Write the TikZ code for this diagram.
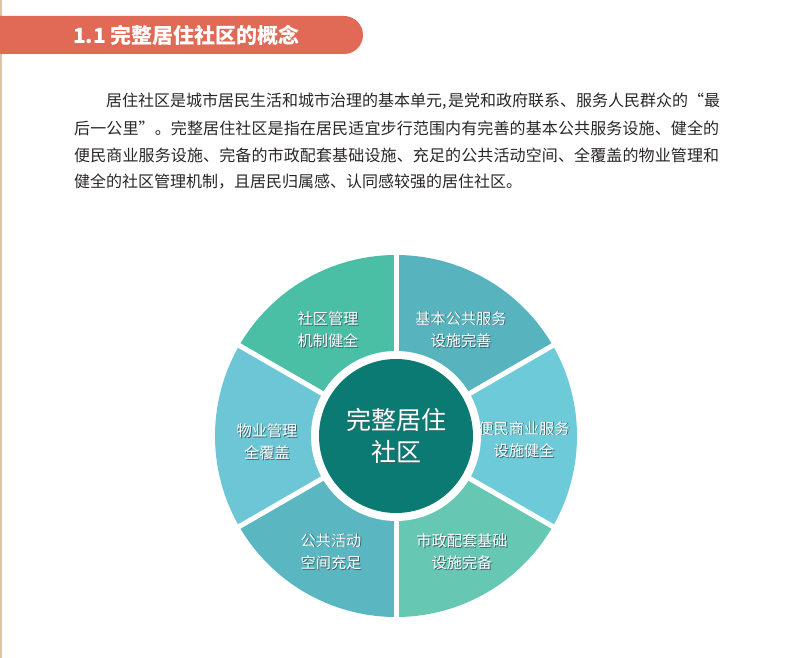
\documentclass[tikz,border=0pt]{standalone}
\usepackage{fontspec}
\newfontfamily\cjk{Noto Sans CJK SC}
\definecolor{hdr}{HTML}{E06A55}
\definecolor{edgetan}{HTML}{DCC6A0}
\definecolor{bodytxt}{HTML}{2A2627}
\definecolor{segA}{HTML}{4BBFA6}
\definecolor{segB}{HTML}{57B4BF}
\definecolor{segC}{HTML}{6CCAD9}
\definecolor{segD}{HTML}{66C7B2}
\definecolor{segE}{HTML}{5AB7C2}
\definecolor{segF}{HTML}{6CC6D6}
\definecolor{ctr}{HTML}{0B7A72}
\definecolor{shadowc}{RGB}{60,100,105}
\newcommand\shd[1]{\makebox[0pt][l]{\hspace*{0.9pt}\raisebox{-0.9pt}{\textcolor{shadowc}{#1}}}#1}
\makeatletter
\newcommand\spreadline[2]{\hbox to #1{\@tfor\spch:=#2\do{\spch\hfil}\unskip}}
\makeatother
\tikzset{
  bodyline/.style={anchor=west, inner sep=0, text=bodytxt, font=\cjk\fontsize{16pt}{18pt}\selectfont},
  seglabel/.style={inner sep=0, text=white, align=center, font=\cjk\fontsize{15.2pt}{22.5pt}\selectfont},
}
\begin{document}
\begin{tikzpicture}[x=1pt,y=-1pt]
\useasboundingbox (0,0) rectangle (793,658);
\fill[white] (0,0) rectangle (793,658);
\fill[edgetan] (0,0) rectangle (1.6,658);
% header bar
\fill[hdr, rounded corners=19pt] (-40,16) rectangle (363,54);
\node[anchor=west, inner sep=0, text=white, font=\cjk\bfseries\fontsize{21pt}{24pt}\selectfont] (title) at (73,35) {1.1 完整居住社区的概念};
% paragraph
\node[bodyline] (l1) at (106,101.5) {居住社区是城市居民生活和城市治理的基本单元,\hspace{1.5pt}是党和政府联系、服务人民群众的“最};
\node[bodyline] (l2) at (74,128.5) {\spreadline{645pt}{后一公里”。完整居住社区是指在居民适宜步行范围内有完善的基本公共服务设施、健全的}};
\node[bodyline] (l3) at (74,155.5) {\spreadline{645pt}{便民商业服务设施、完备的市政配套基础设施、充足的公共活动空间、全覆盖的物业管理和}};
\node[bodyline] (l4) at (74,182) {健全的社区管理机制，且居民归属感、认同感较强的居住社区。};
% ring
\begin{scope}[shift={(396,436)}]
\foreach \a/\c in {120/segA, 60/segB, 0/segC, -60/segD, -120/segE, 180/segF} {
  \fill[\c] (\a-30:84pt) arc[start angle=\a-30, end angle=\a+30, radius=84pt]
    -- (\a+30:181pt) arc[start angle=\a+30, end angle=\a-30, radius=181pt] -- cycle;
}
\foreach \a in {30,90,150,210,270,330}
  \draw[white, line width=5pt] (0,0) -- (\a:190pt);
\fill[white] (0,0) circle[radius=85pt];
\node[circle, fill=ctr, minimum size=154pt, inner sep=0, text=white, align=center,
  font=\cjk\fontsize{25pt}{32pt}\selectfont] (core) at (0,0) {\shd{完整居住}\\\shd{社区}};
\end{scope}
% segment labels
\node[seglabel] (s1) at (328,330) {\shd{社区管理}\\\shd{机制健全}};
\node[seglabel] (s2) at (461,330) {\shd{基本公共服务}\\\shd{设施完善}};
\node[seglabel] (s3) at (524,440) {\shd{便民商业服务}\\\shd{设施健全}};
\node[seglabel] (s4) at (267,442) {\shd{物业管理}\\\shd{全覆盖}};
\node[seglabel] (s5) at (331,552) {\shd{公共活动}\\\shd{空间充足}};
\node[seglabel] (s6) at (462,552) {\shd{市政配套基础}\\\shd{设施完备}};
\end{tikzpicture}
\end{document}
